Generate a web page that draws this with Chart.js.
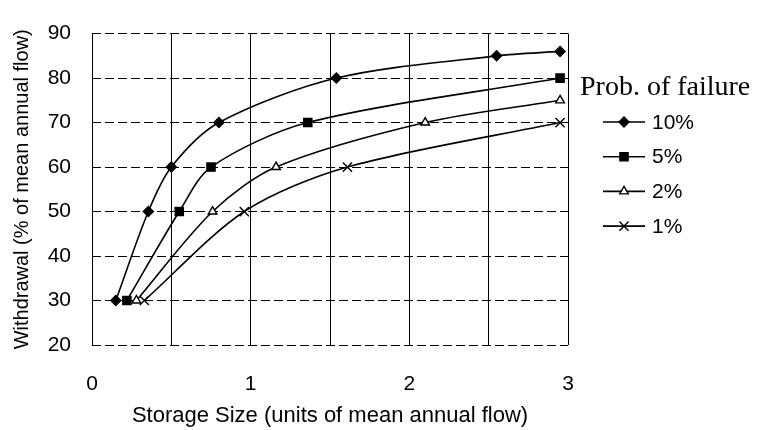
<!DOCTYPE html>
<html>
<head>
<meta charset="utf-8">
<title>Storage - withdrawal curves</title>
<script src="https://cdn.jsdelivr.net/npm/chart.js@4.4.0/dist/chart.umd.min.js"></script>
<style>
    html, body { margin: 0; padding: 0; background: #fff; }
    #wrap { width: 760px; height: 430px; }
</style>
</head>
<body>
<div id="wrap"><canvas id="chart" width="760" height="430"></canvas></div>
<script>
// storage (units of mean annual flow) vs withdrawal (% of mean annual flow)
const seriesNames = ['10%', '5%', '2%', '1%'];
const legendTitle = 'Prob. of failure';

const storage10 = [0.15, 0.355, 0.50, 0.80, 1.54, 2.55, 2.95];
const withdrawal10 = [30, 50, 60, 70, 80, 85, 86];

const storage5 = [0.22, 0.55, 0.75, 1.36, 2.95];
const withdrawal5 = [30, 50, 60, 70, 80];

const storage2 = [0.28, 0.76, 1.16, 2.10, 2.95];
const withdrawal2 = [30, 50, 60, 70, 75];

const storage1 = [0.33, 0.96, 1.61, 2.95];
const withdrawal1 = [30, 50, 60, 70];

const xTickLabels = [0, 1, 2, 3];
const yTicks = { min: 20, max: 90, step: 10 };

function puntos(xs, ys) {
    return xs.map((x, i) => ({ x, y: ys[i] }));
}

function serie(nombre, xs, ys, estilo, radio, relleno) {
    return {
        label: nombre,
        data: puntos(xs, ys),
        borderColor: '#000',
        borderWidth: 1.6,
        tension: 0.3,
        pointStyle: estilo,
        pointRadius: radio,
        pointHoverRadius: radio,
        pointBorderWidth: 1.4,
        pointBorderColor: '#000',
        pointBackgroundColor: relleno,
        fill: false
    };
}

const datasets = [
    serie(seriesNames[0], storage10, withdrawal10, 'rectRot', 5, '#000'),
    serie(seriesNames[1], storage5, withdrawal5, 'rect', 5.8, '#000'),
    serie(seriesNames[2], storage2, withdrawal2, 'triangle', 5, '#fff'),
    serie(seriesNames[3], storage1, withdrawal1, 'crossRot', 6.5, '#000')
];

// leyenda dibujada a mano a la derecha del área del gráfico
const leyenda = {
    id: 'leyendaFalla',
    afterDraw(chart) {
        const ctx = chart.ctx;
        const x0 = chart.chartArea.right;
        ctx.save();
        ctx.fillStyle = '#000';
        ctx.font = '28px "Liberation Serif", "Times New Roman", serif';
        ctx.textBaseline = 'alphabetic';
        ctx.textAlign = 'left';
        ctx.fillText(legendTitle, x0 + 12, 95);

        chart.data.datasets.forEach((ds, i) => {
            const y = 122 + i * 34.7;
            ctx.strokeStyle = '#000';
            ctx.lineWidth = 1.6;
            ctx.beginPath();
            ctx.moveTo(x0 + 35, y);
            ctx.lineTo(x0 + 77, y);
            ctx.stroke();

            ctx.fillStyle = ds.pointBackgroundColor;
            ctx.lineWidth = ds.pointBorderWidth;
            Chart.helpers.drawPoint(ctx, {
                pointStyle: ds.pointStyle,
                radius: ds.pointRadius,
                borderWidth: ds.pointBorderWidth,
                rotation: 0
            }, x0 + 56, y);

            ctx.fillStyle = '#000';
            ctx.font = '21px "Liberation Sans", Arial, sans-serif';
            ctx.textBaseline = 'middle';
            ctx.fillText(ds.label, x0 + 84, y + 1);
        });
        ctx.restore();
    }
};

const ctx = document.getElementById('chart').getContext('2d');
new Chart(ctx, {
    type: 'line',
    data: { datasets },
    plugins: [leyenda],
    options: {
        responsive: false,
        animation: false,
        layout: { padding: { top: 20, right: 192, left: 0, bottom: 0 } },
        plugins: {
            legend: { display: false },
            tooltip: { enabled: false }
        },
        scales: {
            x: {
                type: 'linear',
                min: 0,
                max: 3,
                afterFit: axis => { axis.height = 85; },
                ticks: {
                    stepSize: 0.5,
                    padding: 27,
                    color: '#000',
                    font: { family: '"Liberation Sans", Arial, sans-serif', size: 21 },
                    callback: v => xTickLabels.includes(v) ? String(v) : ''
                },
                grid: { color: '#000', lineWidth: 1, drawTicks: false },
                border: { display: false },
                title: {
                    display: true,
                    text: 'Storage Size (units of mean annual flow)',
                    color: '#000',
                    font: { family: '"Liberation Sans", Arial, sans-serif', size: 22 },
                    padding: { top: 0, bottom: 1 }
                }
            },
            y: {
                min: yTicks.min,
                max: yTicks.max,
                afterFit: axis => { axis.width = 92; },
                ticks: {
                    stepSize: yTicks.step,
                    padding: 21,
                    color: '#000',
                    font: { family: '"Liberation Sans", Arial, sans-serif', size: 21 }
                },
                grid: { color: '#000', lineWidth: 1, drawTicks: false },
                border: { display: false, dash: [9, 4] },
                title: {
                    display: true,
                    text: 'Withdrawal (% of mean annual flow)',
                    color: '#000',
                    font: { family: '"Liberation Sans", Arial, sans-serif', size: 20 },
                    padding: { top: 10, bottom: 0 }
                }
            }
        }
    }
});
</script>
</body>
</html>
